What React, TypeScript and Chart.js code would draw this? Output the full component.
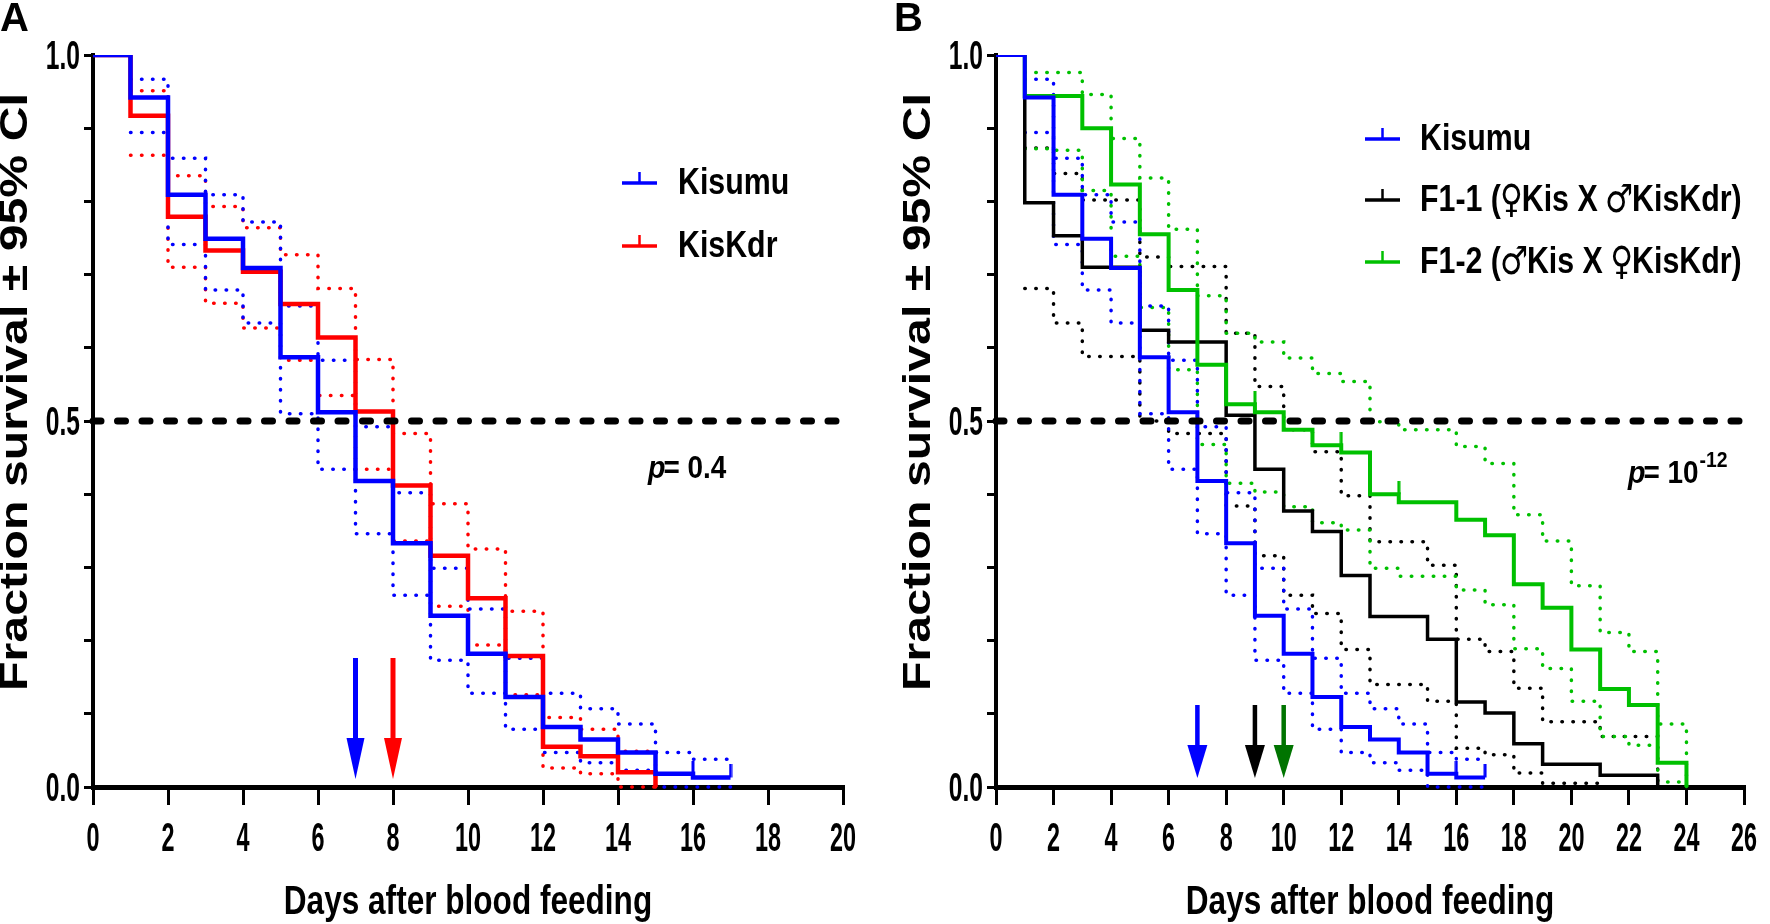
import React, { useEffect, useRef } from 'react';
import { Chart, registerables } from 'chart.js';

Chart.register(...registerables);

const FONT = '"Liberation Sans", Arimo, Arial, Helvetica, sans-serif';
const SYMFONT = '"DejaVu Sans", "Noto Sans", sans-serif';

// ---------------- DATA ----------------
const xTickLabelsA = ['0', '2', '4', '6', '8', '10', '12', '14', '16', '18', '20'];
const xTickLabelsB = ['0', '2', '4', '6', '8', '10', '12', '14', '16', '18', '20', '22', '24', '26'];
const yTickValues = [0, 0.5, 1.0];
const yTickLabels = ['0.0', '0.5', '1.0'];
const xAxisTitle = 'Days after blood feeding';
const yAxisTitle = 'Fraction survival ± 95% CI';
const referenceLevel = 0.5;

// survival fraction per day (index = day), CI bounds start at day 1
const kisumuS = [1.0, 0.942, 0.809, 0.749, 0.709, 0.587, 0.512, 0.418, 0.333, 0.234, 0.182, 0.123, 0.082, 0.065, 0.047, 0.018, 0.013, 0.013];
const kisumuHi = [null, 0.967, 0.859, 0.809, 0.772, 0.657, 0.583, 0.492, 0.402, 0.299, 0.243, 0.176, 0.128, 0.107, 0.086, 0.047, 0.038, 0.038];
const kisumuLo = [null, 0.894, 0.741, 0.679, 0.634, 0.510, 0.434, 0.346, 0.262, 0.173, 0.128, 0.079, 0.047, 0.033, 0.023, 0.0, 0.0, 0.0];
const kisumuCensorDays = [16, 17];

const kiskdrS = [1.0, 0.917, 0.779, 0.733, 0.704, 0.660, 0.614, 0.513, 0.412, 0.316, 0.258, 0.179, 0.055, 0.042, 0.020, 0.0];
const kiskdrHi = [null, 0.951, 0.835, 0.793, 0.764, 0.727, 0.681, 0.584, 0.483, 0.387, 0.325, 0.240, 0.095, 0.079, 0.049, 0.0];
const kiskdrLo = [null, 0.863, 0.710, 0.661, 0.627, 0.583, 0.535, 0.434, 0.336, 0.247, 0.194, 0.126, 0.026, 0.018, 0.0, 0.0];

const f11S = [1.0, 0.798, 0.753, 0.710, 0.710, 0.624, 0.608, 0.608, 0.508, 0.434, 0.377, 0.349, 0.289, 0.233, 0.233, 0.202, 0.116, 0.101, 0.059, 0.031, 0.031, 0.016, 0.016, 0.0];
const f11Hi = [null, 0.873, 0.838, 0.802, 0.802, 0.724, 0.711, 0.711, 0.620, 0.547, 0.488, 0.458, 0.398, 0.335, 0.335, 0.303, 0.202, 0.185, 0.135, 0.089, 0.089, 0.069, 0.069, 0.0];
const f11Lo = [null, 0.681, 0.634, 0.588, 0.588, 0.500, 0.483, 0.483, 0.384, 0.316, 0.262, 0.237, 0.188, 0.140, 0.140, 0.117, 0.053, 0.044, 0.019, 0.005, 0.005, 0.0, 0.0, 0.0];

const f12S = [1.0, 0.944, 0.944, 0.900, 0.823, 0.755, 0.679, 0.577, 0.523, 0.512, 0.488, 0.467, 0.457, 0.400, 0.389, 0.389, 0.365, 0.344, 0.277, 0.245, 0.188, 0.134, 0.112, 0.033, 0.0];
const f12Hi = [null, 0.976, 0.976, 0.946, 0.886, 0.832, 0.762, 0.671, 0.620, 0.608, 0.586, 0.565, 0.554, 0.499, 0.488, 0.488, 0.465, 0.442, 0.372, 0.336, 0.275, 0.211, 0.185, 0.086, 0.0];
const f12Lo = [null, 0.872, 0.870, 0.815, 0.725, 0.655, 0.570, 0.468, 0.415, 0.403, 0.383, 0.361, 0.351, 0.299, 0.288, 0.288, 0.269, 0.249, 0.189, 0.162, 0.117, 0.069, 0.057, 0.007, 0.0];
const f12CensorDays = [9, 12, 14];

const medianDaysA = [7, 8];
const medianDaysB = [7, 9, 10];

const legendLabelsA = ['Kisumu', 'KisKdr'];
const legendLabelsB = ['Kisumu', 'F1-1 (\u2640Kis X \u2642KisKdr)', 'F1-2 (\u2642Kis X \u2640KisKdr)'];
const pValueA = '0.4';
const pValueBBase = '10';
const pValueBExp = '-12';

// ---------------- STYLES ----------------
const BLUE = '#0000ff';
const RED = '#ff0000';
const GREEN = '#00c000';
const DKGREEN = '#007400';
const BLACK = '#000000';

type Series = { s: number[]; hi: (number | null)[]; lo: (number | null)[]; color: string; width: number; censor: number[] };

const seriesA: Series[] = [
  { s: kisumuS, hi: kisumuHi, lo: kisumuLo, color: BLUE, width: 4.5, censor: kisumuCensorDays },
  { s: kiskdrS, hi: kiskdrHi, lo: kiskdrLo, color: RED, width: 4.5, censor: [] },
];
const seriesB: Series[] = [
  { s: kisumuS, hi: kisumuHi, lo: kisumuLo, color: BLUE, width: 4, censor: kisumuCensorDays },
  { s: f12S, hi: f12Hi, lo: f12Lo, color: GREEN, width: 4, censor: f12CensorDays },
  { s: f11S, hi: f11Hi, lo: f11Lo, color: BLACK, width: 3.5, censor: [] },
];

type Panel = {
  offset: number; w: number; xMax: number; left: number; right: number;
  xLabels: string[]; series: Series[]; letter: string; letterX: number;
  legend: string[]; legendColors: string[]; legX0: number; legX1: number; legTextX: number; legRows: number[];
  medians: number[]; medianColors: string[]; arrowTop: number; arrowHead: number; arrowTip: number; arrowHeadW: number; arrowShaftW: number;
  pX: number; pY: number; pKind: 'A' | 'B';
};

const TOP = 55;
const BOTTOM = 787;
const H = 924;

const panelA: Panel = {
  offset: 0, w: 880, xMax: 20, left: 93, right: 843, xLabels: xTickLabelsA, series: seriesA,
  letter: 'A', letterX: 0,
  legend: legendLabelsA, legendColors: [BLUE, RED], legX0: 622, legX1: 657, legTextX: 678, legRows: [183, 246],
  medians: medianDaysA, medianColors: [BLUE, RED], arrowTop: 658, arrowHead: 738, arrowTip: 779, arrowHeadW: 18, arrowShaftW: 5,
  pX: 648, pY: 467, pKind: 'A',
};
const panelB: Panel = {
  offset: 880, w: 890, xMax: 26, left: 116, right: 864, xLabels: xTickLabelsB, series: seriesB,
  letter: 'B', letterX: 14,
  legend: legendLabelsB, legendColors: [BLUE, BLACK, GREEN], legX0: 485, legX1: 520, legTextX: 540, legRows: [139, 200, 262],
  medians: medianDaysB, medianColors: [BLUE, BLACK, DKGREEN], arrowTop: 705, arrowHead: 745, arrowTip: 778, arrowHeadW: 20, arrowShaftW: 4.5,
  pX: 748, pY: 472, pKind: 'B',
};

function censorMark(color: string): HTMLCanvasElement {
  const c = document.createElement('canvas');
  c.width = 4;
  c.height = 26;
  const g = c.getContext('2d')!;
  g.fillStyle = color;
  g.fillRect(0.5, 0, 3, 13);
  return c;
}

function txt(
  ctx: CanvasRenderingContext2D, s: string, x: number, y: number, font: string,
  o: { sx?: number; align?: CanvasTextAlign; base?: CanvasTextBaseline; color?: string; rot?: number } = {}
) {
  ctx.save();
  ctx.translate(x, y);
  if (o.rot) ctx.rotate(o.rot);
  ctx.scale(o.sx ?? 1, 1);
  ctx.font = font;
  ctx.fillStyle = o.color ?? '#000';
  ctx.textAlign = o.align ?? 'left';
  ctx.textBaseline = o.base ?? 'alphabetic';
  ctx.fillText(s, 0, 0);
  ctx.restore();
}

// draw a legend label where gender symbols use a larger symbol font
function legendText(ctx: CanvasRenderingContext2D, s: string, x: number, y: number, size: number, sx: number) {
  let cx = x;
  const chars = Array.from(s);
  let run = '';
  const flush = () => {
    if (!run) return;
    const f = `bold ${size}px ${FONT}`;
    ctx.save();
    ctx.font = f;
    const w = ctx.measureText(run).width * sx;
    ctx.restore();
    txt(ctx, run, cx, y, f, { sx, base: 'middle' });
    cx += w;
    run = '';
  };
  chars.forEach((ch) => {
    if (ch === '\u2640' || ch === '\u2642') {
      flush();
      const f = `bold ${Math.round(size * 1.05)}px ${SYMFONT}`;
      ctx.save();
      ctx.font = f;
      const w = ctx.measureText(ch).width * 0.8;
      ctx.restore();
      txt(ctx, ch, cx - 1, y + 1, f, { sx: 0.8, base: 'middle' });
      cx += w - 2;
    } else {
      run += ch;
    }
  });
  flush();
}

function pts(arr: (number | null)[]) {
  const out: { x: number; y: number }[] = [];
  arr.forEach((y, i) => {
    if (y !== null) out.push({ x: i, y });
  });
  return out;
}

function buildConfig(p: Panel): any {
  const datasets: any[] = [];
  // censor marks (on top)
  p.series.forEach((se) => {
    if (se.censor.length) {
      datasets.push({
        data: se.censor.map((d) => ({ x: d, y: se.s[d - 1] })),
        showLine: false,
        pointStyle: censorMark(se.color),
        pointRadius: 6,
        pointHoverRadius: 6,
        clip: false,
      });
    }
  });
  // reference (median) line
  datasets.push({
    data: [{ x: 0, y: referenceLevel }, { x: p.xMax, y: referenceLevel }],
    borderColor: BLACK,
    borderWidth: 7,
    borderDash: [8, 16.5],
    borderCapStyle: 'round',
    pointRadius: 0,
    clip: false,
  });
  // solid KM curves
  p.series.forEach((se) => {
    datasets.push({
      data: pts(se.s),
      borderColor: se.color,
      borderWidth: se.width,
      stepped: true,
      pointRadius: 0,
      borderCapStyle: 'butt',
      borderJoinStyle: 'miter',
      clip: { left: 6, right: 6, top: 0, bottom: 6 },
    });
  });
  // dotted confidence bands
  p.series.forEach((se) => {
    [se.hi, se.lo].forEach((band) => {
      datasets.push({
        data: pts(band),
        borderColor: se.color,
        borderWidth: 3.5,
        borderDash: [0.5, 10.5],
        borderCapStyle: 'round',
        stepped: true,
        pointRadius: 0,
        clip: false,
      });
    });
  });

  const decor = {
    id: 'decor' + p.letter,
    afterDraw(chart: any) {
      const ctx: CanvasRenderingContext2D = chart.ctx;
      const ca = chart.chartArea;
      const xs = chart.scales.x;
      const ys = chart.scales.y;
      // y tick labels
      yTickValues.forEach((v, i) => {
        txt(ctx, yTickLabels[i], ca.left - 13, ys.getPixelForValue(v) + 14, `bold 41px ${FONT}`, { sx: 0.6, align: 'right' });
      });
      // x tick labels
      p.xLabels.forEach((l) => {
        txt(ctx, l, xs.getPixelForValue(Number(l)), 851, `bold 41px ${FONT}`, { sx: 0.57, align: 'center' });
      });
      // axis titles
      txt(ctx, xAxisTitle, (ca.left + ca.right) / 2, 914, `bold 41px ${FONT}`, { sx: 0.77, align: 'center' });
      txt(ctx, yAxisTitle, ca.left - 76, 392, `bold 38px ${FONT}`, { sx: 1.27, align: 'center', base: 'middle', rot: -Math.PI / 2 });
      // panel letter
      txt(ctx, p.letter, p.letterX, 31, `bold 40px ${FONT}`);
      // legend
      p.legend.forEach((l, i) => {
        const y = p.legRows[i];
        ctx.save();
        ctx.strokeStyle = p.legendColors[i];
        ctx.lineWidth = 3.5;
        ctx.beginPath();
        ctx.moveTo(p.legX0, y);
        ctx.lineTo(p.legX1, y);
        ctx.stroke();
        ctx.lineWidth = 2.5;
        ctx.beginPath();
        const cx = (p.legX0 + p.legX1) / 2;
        ctx.moveTo(cx, y);
        ctx.lineTo(cx, y - 11);
        ctx.stroke();
        ctx.restore();
        legendText(ctx, l, p.legTextX, y + 1, 37, 0.82);
      });
      // p value
      const PF = 31;
      ctx.save();
      ctx.font = `italic bold ${PF}px ${FONT}`;
      const pw = ctx.measureText('p').width * 0.92;
      ctx.restore();
      txt(ctx, 'p', p.pX, p.pY + 11, `italic bold ${PF}px ${FONT}`, { sx: 0.92 });
      if (p.pKind === 'A') {
        txt(ctx, '= ' + pValueA, p.pX + pw - 2, p.pY + 11, `bold ${PF}px ${FONT}`, { sx: 0.9 });
      } else {
        const base = '= ' + pValueBBase;
        ctx.save();
        ctx.font = `bold ${PF}px ${FONT}`;
        const bw = ctx.measureText(base).width * 0.9;
        ctx.restore();
        txt(ctx, base, p.pX + pw - 2, p.pY + 11, `bold ${PF}px ${FONT}`, { sx: 0.9 });
        txt(ctx, pValueBExp, p.pX + pw - 2 + bw + 1, p.pY - 5, `bold 22px ${FONT}`, { sx: 0.88 });
      }
      // median arrows
      p.medians.forEach((d, i) => {
        const x = xs.getPixelForValue(d);
        ctx.save();
        ctx.fillStyle = p.medianColors[i];
        ctx.fillRect(x - p.arrowShaftW / 2, p.arrowTop, p.arrowShaftW, p.arrowHead - p.arrowTop + 1);
        ctx.beginPath();
        ctx.moveTo(x - p.arrowHeadW / 2, p.arrowHead);
        ctx.lineTo(x + p.arrowHeadW / 2, p.arrowHead);
        ctx.lineTo(x, p.arrowTip);
        ctx.closePath();
        ctx.fill();
        ctx.restore();
      });
    },
  };

  const yW = 12;
  const xH = 20;
  return {
    type: 'line',
    data: { datasets },
    options: {
      responsive: false,
      devicePixelRatio: 1,
      animation: false,
      events: [],
      layout: {
        padding: { left: p.left - yW, right: p.w - p.right, top: TOP, bottom: H - BOTTOM - xH },
      },
      plugins: { legend: { display: false }, tooltip: { enabled: false }, title: { display: false } },
      scales: {
        x: {
          type: 'linear',
          min: 0,
          max: p.xMax,
          afterFit: (s: any) => { s.height = xH; },
          ticks: { stepSize: 2, display: false },
          grid: { display: true, drawOnChartArea: false, drawTicks: true, tickLength: 18, color: BLACK, lineWidth: 3 },
          border: { display: true, color: BLACK, width: 5 },
        },
        y: {
          type: 'linear',
          min: 0,
          max: 1,
          afterFit: (s: any) => { s.width = yW; },
          ticks: { stepSize: 0.1, display: false },
          grid: { display: true, drawOnChartArea: false, drawTicks: true, tickLength: 9, color: BLACK, lineWidth: 3 },
          border: { display: true, color: BLACK, width: 4 },
        },
      },
    },
    plugins: [decor],
  };
}

function PanelChart({ p }: { p: Panel }) {
  const ref = useRef<HTMLCanvasElement>(null);
  useEffect(() => {
    const chart = new Chart(ref.current as HTMLCanvasElement, buildConfig(p));
    return () => chart.destroy();
  }, [p]);
  return (
    <canvas
      ref={ref}
      width={p.w}
      height={H}
      style={{ position: 'absolute', left: p.offset, top: 0, width: p.w, height: H, display: 'block' }}
    />
  );
}

export default function App() {
  return (
    <div style={{ position: 'absolute', left: 0, top: 0, width: 1770, height: H, background: '#fff', overflow: 'hidden' }}>
      <PanelChart p={panelA} />
      <PanelChart p={panelB} />
    </div>
  );
}
